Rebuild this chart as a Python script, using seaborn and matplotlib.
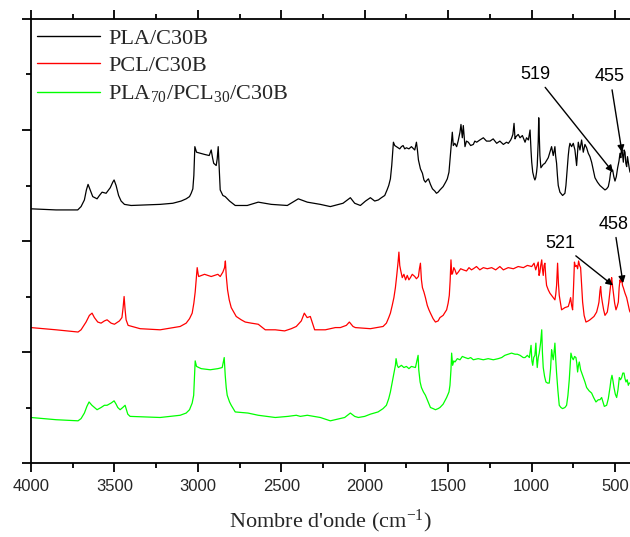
import matplotlib
matplotlib.use("Agg")
import matplotlib.pyplot as plt
from matplotlib.ticker import MultipleLocator, NullFormatter
import seaborn as sns
import pandas as pd

# ---------------- data (wavenumber cm-1, stacked intensity a.u.) ----------------
pla_wn = [4000, 3850, 3720, 3700, 3680, 3668, 3658, 3645, 3630, 3604, 3590, 3574, 3550, 3525, 3510,
          3502, 3490, 3475, 3460, 3440, 3400, 3226, 3150, 3100, 3070, 3050, 3040, 3030, 3024, 3018,
          3008, 2960, 2932, 2920, 2912, 2905, 2890, 2884, 2878, 2872, 2866, 2850, 2836, 2810, 2776,
          2704, 2638, 2560, 2464, 2398, 2344, 2266, 2206, 2130, 2086, 2060, 2026, 1995, 1966, 1940,
          1918, 1900, 1880, 1866, 1856, 1846, 1838, 1832, 1828, 1820, 1810, 1790, 1780, 1770, 1760,
          1750, 1735, 1720, 1700, 1690, 1684, 1678, 1666, 1654, 1645, 1636, 1625, 1618, 1606, 1594,
          1580, 1570, 1560, 1549, 1530, 1515, 1505, 1495, 1489, 1483, 1475, 1469, 1460, 1449, 1440,
          1429, 1423, 1415, 1409, 1399, 1390, 1379, 1365, 1349, 1340, 1329, 1310, 1289, 1270, 1249,
          1230, 1209, 1190, 1169, 1150, 1139, 1125, 1119, 1112, 1105, 1099, 1093, 1080, 1069, 1055,
          1039, 1030, 1019, 1009, 1003, 999, 993, 985, 980, 975, 970, 966, 960, 957, 953,
          950, 944, 930, 920, 900, 890, 880, 870, 860, 856, 850, 845, 840, 830, 814,
          800, 794, 787, 780, 775, 770, 760, 750, 740, 730, 720, 710, 700, 690, 680,
          670, 660, 650, 640, 630, 620, 605, 590, 575, 560, 550, 540, 532, 526, 514,
          507, 500, 492, 484, 476, 470, 465, 460, 455, 450, 445, 440, 435, 430, 425,
          420, 415, 410]
pla_val = [229, 228, 228, 231, 237, 246, 251, 246, 240, 238, 241, 244, 243, 248, 253,
           255, 250, 241, 236, 233, 232, 233, 234, 236, 238, 240, 243, 247, 259, 285,
           280, 278, 277, 282, 275, 270, 268, 274, 285, 265, 246, 241, 240, 236, 232,
           232, 235, 233, 232, 238, 235, 233, 231, 234, 239, 234, 232, 236, 239, 236,
           237, 239, 241, 246, 250, 256, 268, 281, 289, 286, 285, 283, 285, 286, 283,
           284, 283, 285, 282, 289, 282, 273, 265, 261, 255, 253, 255, 256, 251, 247,
           245, 243, 244, 246, 249, 253, 256, 262, 273, 284, 298, 286, 288, 285, 290,
           298, 305, 293, 304, 285, 290, 289, 286, 287, 290, 289, 291, 293, 290, 290,
           292, 288, 290, 287, 289, 288, 291, 293, 296, 306, 292, 294, 296, 293, 295,
           289, 293, 291, 300, 281, 271, 262, 257, 255, 257, 262, 268, 290, 311, 290,
           277, 266, 269, 270, 275, 280, 285, 277, 285, 277, 270, 259, 250, 244, 241,
           243, 250, 263, 277, 284, 288, 285, 288, 282, 268, 289, 282, 291, 280, 287,
           284, 279, 276, 271, 264, 257, 253, 250, 248, 246, 247, 249, 255, 262, 264,
           258, 254, 258, 266, 272, 279, 275, 286, 278, 271, 282, 280, 270, 267, 276,
           271, 266, 262]

pcl_wn = [4000, 3850, 3718, 3700, 3670, 3650, 3634, 3620, 3600, 3580, 3560, 3544, 3520, 3500, 3470,
          3455, 3448, 3442, 3436, 3430, 3418, 3346, 3226, 3106, 3070, 3050, 3034, 3024, 3016, 3010,
          3004, 2998, 2995, 2960, 2920, 2880, 2866, 2850, 2840, 2835, 2830, 2822, 2812, 2800, 2785,
          2770, 2740, 2716, 2680, 2638, 2596, 2536, 2480, 2440, 2410, 2380, 2362, 2345, 2326, 2300,
          2236, 2176, 2146, 2110, 2092, 2070, 2056, 1966, 1890, 1870, 1856, 1846, 1835, 1825, 1816,
          1808, 1800, 1795, 1790, 1785, 1775, 1765, 1755, 1745, 1735, 1726, 1715, 1700, 1690, 1678,
          1672, 1666, 1660, 1654, 1645, 1636, 1625, 1615, 1606, 1590, 1576, 1560, 1549, 1530, 1509,
          1500, 1493, 1488, 1483, 1478, 1473, 1466, 1459, 1450, 1439, 1425, 1409, 1390, 1375, 1360,
          1349, 1330, 1310, 1289, 1265, 1239, 1215, 1190, 1169, 1140, 1109, 1080, 1049, 1025, 999,
          985, 975, 969, 960, 955, 950, 945, 939, 935, 930, 925, 920, 915, 910, 900,
          890, 875, 860, 855, 850, 844, 839, 834, 820, 800, 780, 772, 766, 760, 754,
          748, 743, 737, 730, 724, 718, 712, 706, 700, 694, 685, 674, 660, 650, 626,
          610, 600, 596, 590, 586, 581, 576, 568, 560, 546, 538, 529, 524, 520, 515,
          510, 502, 494, 487, 480, 475, 470, 465, 460, 455, 450, 440, 430, 420, 414,
          410]
pcl_val = [122, 120, 118, 120, 127, 133, 135, 131, 127, 126, 128, 129, 126, 125, 128,
           131, 140, 150, 138, 129, 124, 121, 120, 123, 126, 130, 135, 144, 154, 165,
           176, 170, 168, 170, 168, 170, 168, 172, 176, 182, 169, 156, 147, 140, 136,
           132, 129, 127, 126, 125, 120, 120, 119, 121, 123, 128, 135, 131, 132, 120,
           120, 122, 122, 124, 127, 123, 122, 121, 123, 126, 131, 135, 142, 149, 158,
           169, 181, 190, 178, 174, 167, 170, 165, 169, 165, 167, 170, 168, 166, 168,
           175, 180, 165, 158, 154, 149, 142, 138, 135, 130, 127, 128, 131, 133, 138,
           144, 151, 164, 183, 170, 171, 176, 174, 170, 172, 175, 174, 173, 176, 174,
           175, 177, 174, 176, 175, 176, 174, 177, 174, 176, 175, 177, 176, 178, 177,
           180, 174, 177, 181, 169, 172, 178, 183, 175, 169, 178, 180, 168, 160, 156,
           153, 150, 147, 152, 160, 180, 162, 151, 138, 140, 141, 145, 149, 142, 138,
           160, 181, 177, 178, 175, 182, 178, 176, 160, 145, 133, 127, 128, 129, 132,
           136, 142, 145, 155, 159, 150, 145, 138, 133, 136, 144, 156, 163, 167, 160,
           154, 144, 138, 141, 145, 158, 165, 163, 167, 160, 158, 153, 149, 142, 138,
           136]

blend_wn = [4000, 3850, 3718, 3700, 3680, 3665, 3652, 3635, 3620, 3604, 3580, 3560, 3544, 3520, 3502,
            3490, 3480, 3466, 3450, 3436, 3428, 3420, 3406, 3226, 3106, 3070, 3050, 3034, 3025, 3018,
            3016, 3008, 2980, 2926, 2880, 2854, 2842, 2836, 2830, 2824, 2810, 2800, 2776, 2700, 2638,
            2536, 2460, 2410, 2386, 2344, 2266, 2206, 2120, 2086, 2060, 2038, 2000, 1966, 1920, 1890,
            1870, 1856, 1846, 1835, 1825, 1816, 1812, 1805, 1798, 1780, 1765, 1750, 1735, 1720, 1696,
            1680, 1676, 1668, 1660, 1648, 1636, 1620, 1606, 1590, 1576, 1560, 1549, 1530, 1509, 1495,
            1489, 1483, 1479, 1473, 1466, 1459, 1445, 1429, 1415, 1399, 1380, 1365, 1349, 1320, 1289,
            1260, 1229, 1200, 1179, 1160, 1139, 1120, 1099, 1085, 1069, 1050, 1039, 1025, 1013, 1003,
            998, 993, 987, 980, 974, 970, 966, 960, 954, 946, 939, 935, 930, 922, 914,
            904, 894, 886, 880, 875, 870, 865, 860, 855, 850, 842, 834, 824, 814, 800,
            790, 782, 774, 768, 764, 757, 750, 742, 734, 729, 724, 719, 714, 706, 694,
            680, 670, 655, 640, 628, 614, 600, 590, 580, 572, 564, 550, 540, 530, 524,
            518, 512, 506, 498, 490, 482, 474, 467, 460, 453, 446, 440, 434, 427, 420,
            415, 410]
blend_val = [41, 39, 38, 40, 45, 51, 55, 52, 50, 48, 50, 52, 52, 54, 56,
             53, 50, 48, 50, 52, 48, 44, 42, 41, 43, 45, 48, 54, 61, 84,
             92, 87, 85, 84, 85, 86, 95, 79, 68, 61, 55, 52, 46, 45, 43,
             41, 42, 43, 42, 43, 41, 38, 41, 45, 42, 41, 42, 44, 46, 49,
             52, 58, 64, 73, 81, 88, 94, 88, 86, 88, 86, 87, 85, 87, 86,
             97, 84, 73, 68, 64, 61, 55, 50, 49, 48, 49, 50, 53, 59, 64,
             70, 84, 99, 88, 92, 91, 94, 93, 96, 95, 94, 95, 93, 94, 93,
             94, 93, 94, 95, 97, 98, 99, 98, 98, 97, 95, 95, 97, 95, 106,
             92, 88, 95, 97, 108, 95, 86, 95, 99, 108, 120, 100, 86, 78, 73,
             72, 72, 85, 102, 97, 93, 100, 108, 93, 81, 65, 52, 50, 49, 50,
             52, 61, 75, 90, 99, 95, 93, 96, 95, 90, 82, 88, 91, 84, 79,
             73, 68, 65, 63, 59, 55, 57, 57, 59, 55, 51, 52, 58, 68, 75,
             79, 74, 68, 62, 59, 66, 77, 75, 77, 81, 81, 76, 73, 75, 70,
             72, 72]

series_names = ["PLA/C30B", "PCL/C30B", "PLA$_{70}$/PCL$_{30}$/C30B"]
series_colors = ["#000000", "#ff0000", "#00ff00"]

x_major_ticks = [4000, 3500, 3000, 2500, 2000, 1500, 1000, 500]
x_label = "Nombre d'onde (cm$^{-1}$)"

# annotations: label, arrow target (wn, value), text position (wn, value)
ann_labels = ["519", "455", "521", "458"]
ann_target = [(512, 262), (458, 280), (512, 160), (452, 162)]
ann_text = [(980, 350), (530, 348), (830, 198), (506, 215)]

# ---------------- plot ----------------
sns.set_style("ticks")
plt.rcParams["font.family"] = ["Liberation Sans", "DejaVu Sans"]
plt.rcParams["mathtext.fontset"] = "custom"
plt.rcParams["mathtext.rm"] = "Liberation Serif"
plt.rcParams["mathtext.it"] = "Liberation Serif:italic"
plt.rcParams["mathtext.bf"] = "Liberation Serif:bold"

fig = plt.figure(figsize=(6.3, 5.37), dpi=100)
ax = fig.add_axes([31 / 630, 74 / 537, 599 / 630, 444 / 537])

frames = []
for wn, val, name in zip([pla_wn, pcl_wn, blend_wn], [pla_val, pcl_val, blend_val], series_names):
    frames.append(pd.DataFrame({"wn": wn, "val": val, "sample": name}))
df = pd.concat(frames, ignore_index=True)

for name, color in zip(series_names, series_colors):
    sub = df[df["sample"] == name]
    sns.lineplot(data=sub, x="wn", y="val", ax=ax, color=color, lw=0.9,
                 estimator=None, sort=False, label=name)

ax.set_xlim(4000, 410)
ax.set_ylim(0, 400)
ax.set_xticks(x_major_ticks)
ax.xaxis.set_minor_locator(MultipleLocator(250))
ax.yaxis.set_major_locator(MultipleLocator(100))
ax.yaxis.set_minor_locator(MultipleLocator(50))
ax.yaxis.set_major_formatter(NullFormatter())
ax.set_ylabel("")
ax.set_xlabel(x_label, fontsize=16, family="Liberation Serif", labelpad=10)

for s in ["left", "bottom", "top"]:
    ax.spines[s].set_linewidth(1.3)
    ax.spines[s].set_color("black")
ax.spines["right"].set_visible(False)
ax.tick_params(which="both", direction="out", width=1.3, color="black",
               top=True, labeltop=False, right=False)
ax.tick_params(which="major", length=6.5)
ax.tick_params(which="minor", length=3.5)
ax.tick_params(axis="x", labelsize=12, pad=5)

leg = ax.legend(loc="upper left", bbox_to_anchor=(37 / 630, 1 - 28 / 537),
                bbox_transform=fig.transFigure, frameon=False, borderpad=0,
                borderaxespad=0, handlelength=2.85, handletextpad=0.35,
                labelspacing=0.32, prop={"family": "Liberation Serif", "size": 16})
for line in leg.get_lines():
    line.set_linewidth(1.0)

for lab, tgt, txt in zip(ann_labels, ann_target, ann_text):
    ax.annotate(lab, xy=tgt, xytext=txt, textcoords="data", ha="center", va="center",
                fontsize=13, color="black", annotation_clip=False,
                arrowprops=dict(arrowstyle="-|>", color="black", lw=1.0,
                                mutation_scale=10, shrinkA=1, shrinkB=0))

fig.savefig("out.png", dpi=100)
